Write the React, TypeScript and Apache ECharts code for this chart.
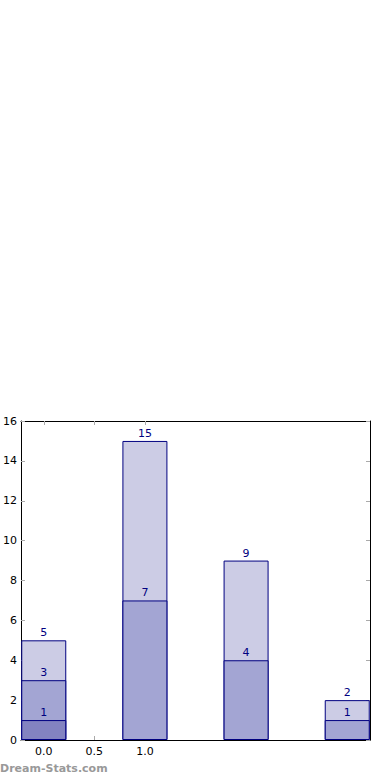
import React, { useEffect, useRef } from "react";
import * as echarts from "echarts";

const positions = [0, 1, 2, 3];
const lightValues = [5, 15, 9, 2];
const mediumValues = [3, 7, 4, 1];
const darkPositions = [0];
const darkValues = [1];
const xTickValues = [0, 0.5, 1.0];
const yTicks = [0, 2, 4, 6, 8, 10, 12, 14, 16];

const FONT = "DejaVu Sans";

export default function App() {
  const ref = useRef<HTMLDivElement>(null);
  useEffect(() => {
    const chart = echarts.init(ref.current!, undefined, { renderer: "svg" });
    const label = {
      show: true,
      position: "top",
      distance: 2,
      color: "#000080",
      fontSize: 11,
      fontFamily: FONT,
    };
    const mk = (name: string, xs: number[], ys: number[], color: string) => ({
      name,
      type: "bar",
      barWidth: 45,
      barGap: "-100%",
      data: xs.map((x, i) => [x, ys[i]]),
      itemStyle: { color, borderColor: "#000080", borderWidth: 1 },
      label,
    });
    const tickStyle = { show: true, inside: true, length: 4, lineStyle: { color: "#aaaaaa" } };
    const line = { show: true, onZero: false, lineStyle: { color: "#000", width: 1 } };
    chart.setOption({
      animation: false,
      grid: { left: 19, right: 20, top: 421, bottom: 40 },
      xAxis: [
        {
          type: "value",
          min: -0.225,
          max: 3.225,
          axisLine: line,
          axisTick: { ...tickStyle, customValues: xTickValues },
          axisLabel: {
            customValues: xTickValues,
            formatter: (v: number) => v.toFixed(1),
            color: "#000",
            fontSize: 11,
            fontFamily: FONT,
            margin: 6,
          },
          splitLine: { show: false },
        },
        {
          type: "value",
          position: "top",
          min: -0.225,
          max: 3.225,
          axisLine: line,
          axisTick: { ...tickStyle, customValues: xTickValues },
          axisLabel: { show: false },
          splitLine: { show: false },
        },
      ],
      yAxis: [
        {
          type: "value",
          min: 0,
          max: 16,
          interval: 2,
          axisLine: line,
          axisTick: tickStyle,
          axisLabel: {
            color: "#000",
            fontSize: 11,
            fontFamily: FONT,
            margin: 4,
            customValues: yTicks,
          },
          splitLine: { show: false },
        },
        {
          type: "value",
          position: "right",
          min: 0,
          max: 16,
          interval: 2,
          axisLine: line,
          axisTick: tickStyle,
          axisLabel: { show: false },
          splitLine: { show: false },
        },
      ],
      series: [
        mk("total", positions, lightValues, "#ccccE5"),
        mk("mid", positions, mediumValues, "#a3a5d3"),
        mk("low", darkPositions, darkValues, "#8383c1"),
      ],
      graphic: [
        {
          type: "text",
          left: 0,
          top: 763,
          style: {
            text: "Dream-Stats.com",
            fill: "#999999",
            font: `bold 11px ${FONT}`,
          },
        },
      ],
    });
    return () => chart.dispose();
  }, []);
  return (
    <div
      ref={ref}
      style={{ position: "fixed", left: 0, top: 0, width: 390, height: 780, background: "#fff" }}
    />
  );
}
